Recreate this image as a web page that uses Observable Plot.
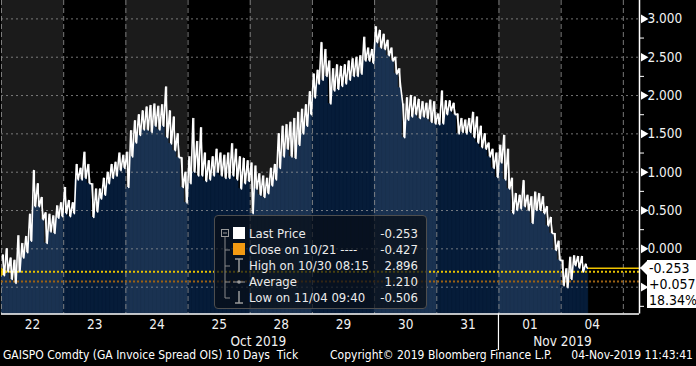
<!DOCTYPE html>
<html><head><meta charset="utf-8">
<script src="https://cdn.jsdelivr.net/npm/d3@7"></script>
<script src="https://cdn.jsdelivr.net/npm/@observablehq/plot@0.6"></script>
<style>
html,body{margin:0;padding:0;background:#000;}
body{width:696px;height:366px;overflow:hidden;position:relative;font-family:"DejaVu Sans Condensed","DejaVu Sans",sans-serif;font-stretch:condensed;color:#fff;}
#chart{position:absolute;left:0;top:0;}
#legend{position:absolute;left:214px;top:215px;width:211px;height:92px;background:rgba(8,14,22,0.72);border:1px solid #4e4e4e;border-radius:4px;font-size:13px;color:#ececec;}
#legend .row{position:absolute;left:34px;right:8px;height:16px;line-height:16px;white-space:pre;}
#legend .row .v{position:absolute;right:0;top:0;}
#legend svg{position:absolute;left:0;top:0;}
#lastbox{position:absolute;left:647px;top:260px;width:49px;height:48px;background:#fff;color:#000;font-size:14px;line-height:16px;}
#lastbox div{padding-left:2px;white-space:pre;}
#lastarrow{position:absolute;left:640px;top:261px;width:0;height:0;border-top:7px solid transparent;border-bottom:7px solid transparent;border-right:7px solid #fff;}
#footer{position:absolute;left:0;top:348px;width:696px;height:15px;font-size:12px;line-height:15px;color:#fff;white-space:pre;}
#footer span{position:absolute;top:0;}
</style></head>
<body>
<div id="chart"></div>
<div id="legend"></div>
<div id="lastarrow"></div>
<div id="lastbox"></div>
<div id="footer"></div>
<script>
// ---- data ----
const dayLabels = ["22","23","24","25","28","29","30","31","01","04"];
const monthLabels = ["Oct 2019","Nov 2019"];
const monthAt = [4.13, 9.02];          // month label positions in trading-day units
const majorTicks = [-0.5,0,0.5,1,1.5,2,2.5,3];
const minorTicks = [-0.75,-0.25,0.25,0.75,1.25,1.75,2.25,2.75];

const hi22 = [-0.08,0.0,-0.12,-0.15,0.17,0.07,0.16,0.45,1.02,0.85,0.67,0.47,0.45,0.43,0.56,0.6];
const lo22 = [-0.35,-0.3,-0.4,-0.45,-0.3,-0.12,-0.05,0.1,0.55,0.55,0.38,0.07,0.22,0.2,0.4,0.42];
const hi23 = [0.8,0.63,0.6,1.1,1.05,1.26,1.1,0.85,0.78,0.78,0.92,1.0,1.1,1.13,1.25,1.22];
const lo23 = [0.46,0.42,0.46,0.9,0.9,0.92,0.85,0.41,0.48,0.65,0.7,0.85,0.92,0.95,1.02,1.05];
const hi24 = [1.26,1.54,1.67,1.75,1.8,1.85,1.87,1.89,1.86,1.88,2.11,1.8,1.72,1.5,1.19,1.0];
const lo24 = [0.8,1.2,1.38,1.48,1.55,1.55,1.52,1.6,1.55,1.6,1.45,1.37,1.28,1.19,0.8,0.6];
const hi25 = [1.2,1.7,1.4,1.58,1.25,1.15,1.2,1.3,1.25,1.22,1.25,1.37,1.3,1.2,1.18,1.15];
const lo25 = [0.85,1.0,0.95,0.95,0.88,0.9,0.95,1.0,0.95,0.92,0.92,0.95,0.9,0.78,0.85,0.88];
const hi28 = [1.12,1.08,0.98,0.95,0.92,1.05,1.1,1.5,1.6,1.62,1.65,1.7,1.78,1.82,1.88,2.05];
const lo28 = [0.46,0.78,0.7,0.67,0.72,0.82,0.9,1.05,1.2,1.3,1.2,1.18,1.35,1.5,1.6,1.75];
const hi29 = [2.28,2.33,2.69,2.6,2.45,2.35,2.4,2.38,2.4,2.45,2.48,2.5,2.52,2.76,2.62,2.6];
const lo29 = [1.97,2.15,2.2,2.25,1.89,2.06,2.08,2.12,2.15,2.2,2.25,2.25,2.28,2.45,2.45,2.42];
const hi30 = [2.896,2.85,2.8,2.72,2.62,2.5,2.35,1.89,1.97,2.0,1.98,1.95,1.92,1.9,1.94,1.92];
const lo30 = [2.69,2.62,2.6,2.52,2.45,2.28,2.1,1.45,1.68,1.72,1.75,1.7,1.72,1.7,1.65,1.63];
const hi31 = [1.76,2.06,1.93,1.93,1.9,1.76,1.7,1.68,1.7,1.78,1.72,1.6,1.5,1.38,1.3,1.25];
const lo31 = [1.62,1.63,1.75,1.8,1.75,1.5,1.52,1.5,1.52,1.45,1.38,1.32,1.3,1.2,1.05,0.93];
const hi01 = [1.35,1.48,1.3,0.92,0.72,0.7,0.89,0.7,0.68,0.74,0.72,0.68,0.55,0.41,0.2,0.1];
const lo01 = [1.12,0.9,0.78,0.46,0.5,0.52,0.55,0.5,0.33,0.5,0.5,0.46,0.3,0.2,-0.02,-0.15];
const hi04 = [-0.15,-0.26,-0.11,-0.09,-0.1,-0.1,-0.2];
const lo04 = [-0.48,-0.506,-0.4,-0.22,-0.25,-0.3,-0.253];

const lastPrice = -0.253;
const closeLevel = -0.427;   // Close on 10/21
const refLevel = -0.30;      // yellow dotted reference
const highValue = 2.896, avgValue = 1.210, lowValue = -0.506;
const netChange = "+0.057", pctChange = "18.34%";

// ---- layout constants ----
const binsPerDay = 16;
const xMax = 10.26;
const yMin = -0.85, yMax = 3.24;
const FONT = '"DejaVu Sans Condensed","DejaVu Sans",sans-serif';

const hiByDay = [hi22,hi23,hi24,hi25,hi28,hi29,hi30,hi31,hi01,hi04];
const loByDay = [lo22,lo23,lo24,lo25,lo28,lo29,lo30,lo31,lo01,lo04];

const bins = [];
hiByDay.forEach((his, d) => his.forEach((h, i) => {
  bins.push({day: d, x1: d + i/binsPerDay, x2: d + (i+1)/binsPerDay, xc: d + (i+0.5)/binsPerDay, hi: h, lo: loByDay[d][i]});
}));
const zig = bins.flatMap(b => [{x: b.xc - 1/(4*binsPerDay), y: b.hi}, {x: b.xc + 1/(4*binsPerDay), y: b.lo}]);
const lastX = bins[bins.length-1].x2;

const bands = d3.range(0, 11).map(d => ({x1: d, x2: Math.min(d+1, xMax), gray: d % 2 === 0 && d < 10}));
const dayCenters = dayLabels.map((_, i) => i + 0.5);

const chart = Plot.plot({
  width: 696, height: 350,
  marginTop: 0, marginLeft: 1, marginRight: 57, marginBottom: 36.5,
  x: {domain: [0, xMax], axis: null},
  y: {domain: [yMin, yMax], axis: null},
  style: {background: "#000", color: "#fff", fontFamily: FONT, overflow: "visible"},
  marks: [
    Plot.rect(bands, {x1: "x1", x2: "x2", fill: d => d.gray ? "#1b1b1b" : "#000"}),
    Plot.rect(bins, {x1: "x1", x2: "x2", y1: () => yMin, y2: "lo",
      fill: b => b.day % 2 === 0 ? "#1a3251" : "#061c39",
      stroke: b => b.day % 2 === 0 ? "#1a3251" : "#061c39", strokeWidth: 0.6}),
    Plot.ruleY(majorTicks, {stroke: "#9a9a9a", strokeOpacity: 0.75, strokeDasharray: "2,3"}),
    Plot.ruleX(d3.range(0, 11), {stroke: "#8e8e8e", strokeOpacity: 0.85, strokeDasharray: "5,3"}),
    Plot.ruleY([closeLevel], {stroke: "#9c6212", strokeWidth: 2, strokeDasharray: "2,2"}),
    Plot.ruleY([refLevel], {stroke: "#e8c200", strokeWidth: 2, strokeDasharray: "2,2"}),
    Plot.dot([refLevel], {x: () => 0, y: d => d, symbol: "triangle", rotate: 90, r: 3, fill: "#e8c200", dx: 2}),
    Plot.ruleX(bins, {x: "xc", y1: "lo", y2: "hi", stroke: "#fff", strokeWidth: 1.1}),
    Plot.line(zig, {x: "x", y: "y", stroke: "#fff", strokeWidth: 1.6}),
    Plot.ruleY([lastPrice], {x1: () => lastX, x2: () => xMax, stroke: "#f0c400", strokeWidth: 1.5}),
    Plot.ruleY([yMin], {stroke: "#fff", strokeWidth: 1.5}),
    Plot.ruleX([xMax], {stroke: "#fff", strokeWidth: 1.5}),
    Plot.axisY(minorTicks, {anchor: "right", tickSize: 4, tickFormat: () => "", stroke: "#fff", label: null}),
    Plot.dot(majorTicks, {x: () => xMax, y: d => d, symbol: "triangle", rotate: 90, r: 3.2, fill: "#fff", dx: 4}),
    Plot.axisY(majorTicks.filter(d => d >= 0), {anchor: "right", tickSize: 0, tickPadding: 8, tickFormat: d3.format(".3f"), fontSize: 13.5, fill: "#f2f2f2", label: null}),
    Plot.axisX(dayCenters, {anchor: "bottom", tickSize: 0, tickPadding: 5, tickFormat: d => dayLabels[Math.floor(d)], fontSize: 13.5, fill: "#f2f2f2", label: null}),
    Plot.axisX(monthAt, {anchor: "bottom", tickSize: 0, tickPadding: 22.5, tickFormat: d => monthLabels[monthAt.indexOf(d)], fontSize: 13.5, fill: "#f2f2f2", label: null})
  ]
});
document.getElementById("chart").appendChild(chart);

// Nov separator below the plot
const sx = chart.scale("x"), sy = chart.scale("y");
d3.select(chart).append("line")
  .attr("x1", sx.apply(8)).attr("x2", sx.apply(8))
  .attr("y1", sy.apply(yMin)).attr("y2", 350)
  .attr("stroke", "#fff").attr("stroke-width", 1.2);

// legend
const fmt = d3.format(".3f");
const sgn = v => (v < 0 ? "-" : "") + fmt(Math.abs(v));
const legendRows = [
  ["Last Price", sgn(lastPrice)],
  ["Close on 10/21 ----", sgn(closeLevel)],
  ["High on 10/30 08:15", sgn(highValue)],
  ["Average", sgn(avgValue)],
  ["Low on 11/04 09:40", sgn(lowValue)]
];
const legend = document.getElementById("legend");
legend.innerHTML = `<svg width="40" height="92">
  <rect x="6.5" y="13.5" width="7" height="7" fill="none" stroke="#9a9a9a"/>
  <line x1="8" x2="12" y1="17" y2="17" stroke="#9a9a9a"/>
  <line x1="10" x2="10" y1="21" y2="82" stroke="#8a8a8a"/>
  <line x1="10" x2="15" y1="34" y2="34" stroke="#8a8a8a"/>
  <line x1="10" x2="15" y1="50" y2="50" stroke="#8a8a8a"/>
  <line x1="10" x2="15" y1="66" y2="66" stroke="#8a8a8a"/>
  <line x1="10" x2="15" y1="82" y2="82" stroke="#8a8a8a"/>
  <rect x="18" y="11" width="12" height="12" fill="#fff"/>
  <rect x="18" y="27" width="12" height="12" fill="#f39a12"/>
  <line x1="20" x2="28" y1="43" y2="43" stroke="#9a9a9a" stroke-width="1.5"/>
  <line x1="24" x2="24" y1="43" y2="56" stroke="#9a9a9a" stroke-width="1.5"/>
  <line x1="18" x2="30" y1="66" y2="66" stroke="#9a9a9a"/>
  <circle cx="24" cy="66" r="1.8" fill="#9a9a9a"/>
  <line x1="24" x2="24" y1="75" y2="87" stroke="#9a9a9a" stroke-width="1.5"/>
  <line x1="20" x2="28" y1="87" y2="87" stroke="#9a9a9a" stroke-width="1.5"/>
</svg>` + legendRows.map((r, i) =>
  `<div class="row" style="top:${10 + 16*i}px">${r[0]}<span class="v">${r[1]}</span></div>`).join("");

document.getElementById("lastbox").innerHTML =
  `<div>${sgn(lastPrice)}</div><div>${netChange}</div><div>${pctChange}</div>`;

document.getElementById("footer").innerHTML =
  `<span style="left:3px">GAISPO Comdty (GA Invoice Spread OIS) 10 Days  Tick</span>` +
  `<span style="left:330px">Copyright\u00a9 2019 Bloomberg Finance L.P.</span>` +
  `<span style="right:3px">04-Nov-2019 11:43:41</span>`;
</script>
</body></html>
